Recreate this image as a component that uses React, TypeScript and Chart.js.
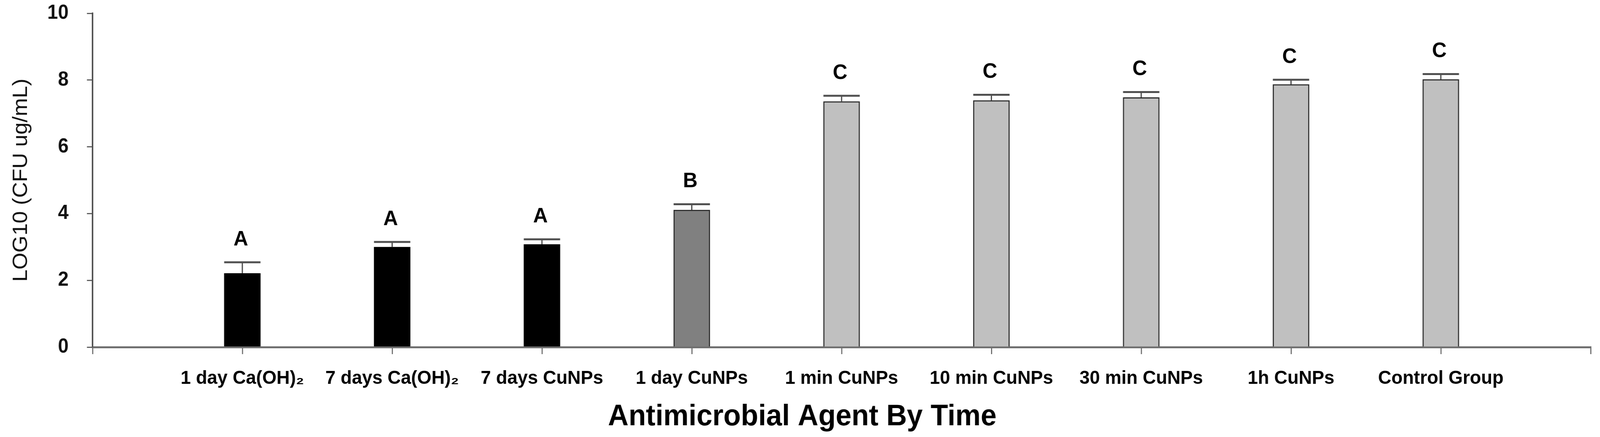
import React, { useEffect, useRef } from 'react';
import { Chart, registerables } from 'chart.js';

Chart.register(...registerables);

const categories = [
  '1 day Ca(OH)₂',
  '7 days Ca(OH)₂',
  '7 days CuNPs',
  '1 day CuNPs',
  '1 min CuNPs',
  '10 min CuNPs',
  '30 min CuNPs',
  '1h CuNPs',
  'Control Group',
];
const means = [2.21, 3.0, 3.08, 4.11, 7.36, 7.39, 7.48, 7.87, 8.02];
const errors = [0.33, 0.15, 0.15, 0.17, 0.17, 0.17, 0.16, 0.14, 0.16];
const groupLetters = ['A', 'A', 'A', 'B', 'C', 'C', 'C', 'C', 'C'];
const barColors = ['#000000', '#000000', '#000000', '#808080', '#c0c0c0', '#c0c0c0', '#c0c0c0', '#c0c0c0', '#c0c0c0'];
const barBorders = ['#000000', '#000000', '#000000', '#2a2a2a', '#2a2a2a', '#2a2a2a', '#2a2a2a', '#2a2a2a', '#2a2a2a'];
const yMin = 0;
const yMax = 10;
const yStep = 2;
const xTitle = 'Antimicrobial Agent By Time';
const yTitle = 'LOG10 (CFU ug/mL)';

const FONT = '"Liberation Sans", Arial, "DejaVu Sans", sans-serif';
const W = 4272;
const H = 1118;

const overlayPlugin = {
  id: 'overlay',
  afterDatasetsDraw(chart: any) {
    const { ctx, scales, chartArea } = chart;
    const yScale = scales.y;
    const xScale = scales.x;
    const meta = chart.getDatasetMeta(0);
    ctx.save();
    ctx.strokeStyle = '#707070';
    ctx.lineWidth = 3;
    for (let i = 0; i <= categories.length + 1; i++) {
      const px = Math.round(xScale.getPixelForTick(i)) + 0.5;
      ctx.beginPath();
      ctx.moveTo(px, chartArea.bottom);
      ctx.lineTo(px, chartArea.bottom + 18);
      ctx.stroke();
    }
    for (let i = 0; i < means.length; i++) {
      const el = meta.data[i + 1];
      if (!el) continue;
      const x = el.x;
      const w = el.width;
      const top = yScale.getPixelForValue(means[i]);
      const errTop = yScale.getPixelForValue(means[i] + errors[i]);
      ctx.strokeStyle = '#3a3a3a';
      ctx.lineWidth = 3;
      ctx.beginPath();
      ctx.moveTo(x, top);
      ctx.lineTo(x, errTop);
      ctx.stroke();
      ctx.lineWidth = 5;
      ctx.strokeStyle = '#505050';
      ctx.beginPath();
      ctx.moveTo(x - w / 2, errTop);
      ctx.lineTo(x + w / 2, errTop);
      ctx.stroke();
      ctx.fillStyle = '#000';
      ctx.font = `bold 54px ${FONT}`;
      ctx.textAlign = 'center';
      ctx.textBaseline = 'middle';
      ctx.fillText(groupLetters[i], x - 4, errTop - 58);
    }
    ctx.restore();
  },
  afterDraw(chart: any) {
    const { ctx, chartArea } = chart;
    ctx.save();
    ctx.fillStyle = '#000';
    ctx.font = `bold 76px ${FONT}`;
    ctx.textAlign = 'center';
    ctx.textBaseline = 'alphabetic';
    ctx.fillText(xTitle, (chartArea.left + chartArea.right) / 2 - 105, 1088);
    ctx.translate(72, (chartArea.top + chartArea.bottom) / 2);
    ctx.rotate(-Math.PI / 2);
    ctx.font = `56px ${FONT}`;
    ctx.textBaseline = 'alphabetic';
    ctx.fillStyle = '#111';
    ctx.fillText(yTitle, 0, 0);
    ctx.restore();
  },
};

export default function App() {
  const ref = useRef<HTMLCanvasElement | null>(null);
  useEffect(() => {
    document.body.style.margin = '0';
    document.body.style.overflow = 'hidden';
    const canvas = ref.current;
    if (!canvas) return;
    const vw = window.innerWidth || W;
    canvas.style.width = `${vw}px`;
    canvas.style.height = `${H}px`;
    const labels = ['', ...categories, ''];
    const data = [null, ...means, null];
    const chart = new Chart(canvas, {
      type: 'bar',
      data: {
        labels,
        datasets: [
          {
            data,
            backgroundColor: ['rgba(0,0,0,0)', ...barColors, 'rgba(0,0,0,0)'],
            borderColor: ['rgba(0,0,0,0)', ...barBorders, 'rgba(0,0,0,0)'],
            borderWidth: 3,
            barThickness: 97,
          } as any,
        ],
      },
      options: {
        animation: false,
        responsive: false,
        devicePixelRatio: 1,
        layout: { padding: { left: 0, right: 25, top: 34, bottom: 0 } },
        plugins: { legend: { display: false }, tooltip: { enabled: false } },
        scales: {
          x: {
            type: 'category',
            offset: false,
            grid: {
              display: true,
              offset: false,
              drawOnChartArea: false,
              drawTicks: true,
              tickLength: 18,
              color: '#707070',
              lineWidth: 3,
            },
            border: { display: true, color: '#707070', width: 5 },
            ticks: {
              autoSkip: false,
              maxRotation: 0,
              minRotation: 0,
              padding: 33,
              color: '#000',
              font: { family: FONT, size: 49, weight: 'bold' },
            },
            afterFit: (s: any) => {
              s.height = 230;
              s.paddingLeft = 0;
              s.paddingRight = 0;
            },
          },
          y: {
            min: yMin,
            max: yMax,
            ticks: {
              stepSize: yStep,
              padding: 49,
              color: '#111',
              font: { family: FONT, size: 51, weight: 'bold' },
            },
            grid: { display: true, drawOnChartArea: false, tickLength: 15, color: '#606060', lineWidth: 3 },
            border: { display: true, color: '#505050', width: 4 },
            afterFit: (s: any) => {
              s.width = 247;
              s.paddingTop = 0;
              s.paddingBottom = 0;
            },
          },
        },
      } as any,
      plugins: [overlayPlugin],
    });
    return () => chart.destroy();
  }, []);
  return (
    <div style={{ width: '100%', height: H, background: '#fff', overflow: 'hidden' }}>
      <canvas ref={ref} width={W} height={H} style={{ display: 'block' }} />
    </div>
  );
}
